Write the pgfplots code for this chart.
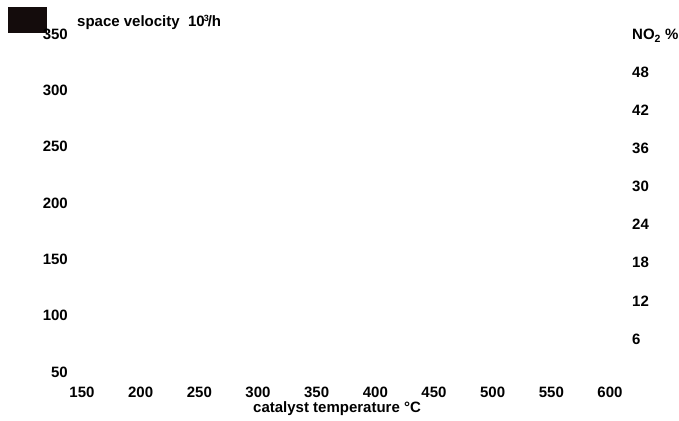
\documentclass[border=0pt]{standalone}
\usepackage{fontspec}
\setmainfont{Liberation Sans}
\usepackage{pgfplots}
\pgfplotsset{compat=1.18}
\definecolor{logoblock}{RGB}{20,12,12}
\newcommand\lbl{\fontsize{15}{17}\selectfont\bfseries}
\begin{document}
\begin{tikzpicture}[x=1pt,y=1pt]
\path[use as bounding box] (0,0) rectangle (679,420);
% dark block in the upper left corner
\fill[logoblock] (8,387) rectangle (47,413);
% left axis: space velocity against catalyst temperature
\begin{axis}[
  at={(82pt,48pt)}, anchor=south west,
  width=528pt, height=338pt, scale only axis,
  xmin=150, xmax=600, ymin=50, ymax=350,
  xtick={150,200,...,600}, ytick={50,100,...,350},
  axis line style={draw=none}, major tick length=0pt,
  /pgf/number format/assume math mode=true,
  tick label style={font=\lbl, inner sep=0pt},
  xticklabel style={anchor=north, yshift=-15pt},
  yticklabel style={anchor=east, xshift=-14pt},
  xlabel={catalyst temperature °C},
  xlabel style={font=\lbl, inner sep=0pt, at={(rel axis cs:0.483,0)}, anchor=base, yshift=-40pt},
]
\end{axis}
% right axis: NO2 share
\begin{axis}[
  at={(82pt,48pt)}, anchor=south west,
  width=528pt, height=338pt, scale only axis,
  xmin=150, xmax=600, ymin=0.8, ymax=54,
  hide x axis,
  ytick={6,12,...,48}, yticklabel pos=right,
  axis line style={draw=none}, major tick length=0pt,
  /pgf/number format/assume math mode=true,
  tick label style={font=\lbl, inner sep=0pt},
  yticklabel style={anchor=west, xshift=22pt},
]
\end{axis}
\node[font=\lbl, inner sep=0pt, anchor=base west] at (77,393)
  {space velocity\ \ 10\kern-1pt\raisebox{5pt}{\fontsize{9}{9}\selectfont 3}\kern-1pt/h};
\node[font=\lbl, inner sep=0pt, anchor=base west] at (632,380)
  {NO\textsubscript{2} \%};
\end{tikzpicture}
\end{document}
